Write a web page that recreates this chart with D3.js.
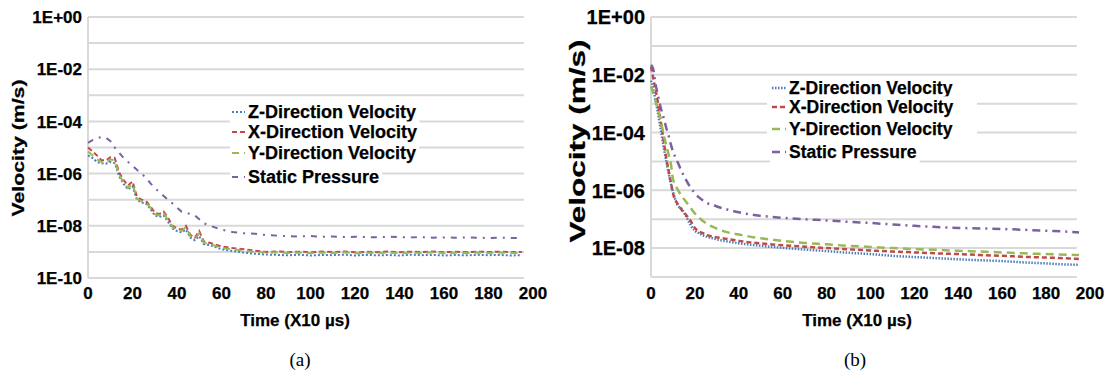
<!DOCTYPE html>
<html lang="en">
<head>
<meta charset="utf-8">
<title>Velocity convergence</title>
<style type="text/css">
  body { margin: 0; background: #fff; }
  .lbl { font-family: "Liberation Sans", Arial, sans-serif; font-weight: bold; fill: #000; stroke: #000; stroke-width: 0.25px; }
  .cap { font-family: "Liberation Serif", "Times New Roman", serif; fill: #000; }
</style>
<script type="text/javascript" src="https://cdn.jsdelivr.net/npm/d3@7"></script>
</head>
<body>
<script type="text/javascript">

var w = 1112;
var h = 380;

// ---- data ----
var seriesNames = ["Z-Direction Velocity", "X-Direction Velocity", "Y-Direction Velocity", "Static Pressure"];
var xTicks = [0, 20, 40, 60, 80, 100, 120, 140, 160, 180, 200];
var yTicksA = [1, 1e-2, 1e-4, 1e-6, 1e-8, 1e-10];
var yLabelsA = ["1E+00", "1E-02", "1E-04", "1E-06", "1E-08", "1E-10"];
var yTicksB = [1, 1e-2, 1e-4, 1e-6, 1e-8];
var yLabelsB = ["1E+00", "1E-02", "1E-04", "1E-06", "1E-08"];

// panel (a)
var tA = [0,2,4,6,8,10,12,14,16,18,20,22,24,26,28,30,32,34,36,38,40,42,44,46,48,50,52,
  55,60,65,70,75,80,85,90,95,100,105,110,115,120,125,130,135,140,145,150,155,160,165,170,175,180,185,190,195];
var zA = [5.0e-6,4.0e-6,2.8e-6,2.5e-6,2.4e-6,2.8e-6,2.5e-6,7.9e-7,4.0e-7,2.5e-7,3.2e-7,1.0e-7,7.9e-8,7.1e-8,
  4.5e-8,2.5e-8,2.2e-8,2.5e-8,1.4e-8,7.9e-9,6.3e-9,5.6e-9,7.1e-9,3.5e-9,2.8e-9,4.0e-9,2.0e-9,
  1.8e-9,1.26e-9,1.07e-9,9.5e-10,8.5e-10,7.9e-10,7.7e-10,7.4e-10,7.8e-10,7.3e-10,7.6e-10,7.5e-10,7.8e-10,
  7.3e-10,7.7e-10,7.4e-10,7.6e-10,7.3e-10,7.8e-10,7.5e-10,7.7e-10,7.3e-10,7.6e-10,7.4e-10,7.7e-10,7.5e-10,7.6e-10,7.3e-10,7.5e-10];
var xA = [1.0e-5,7.1e-6,5.0e-6,3.3e-6,3.2e-6,4.2e-6,4.0e-6,1.1e-6,5.6e-7,3.5e-7,5.0e-7,1.3e-7,1.0e-7,8.9e-8,
  5.6e-8,3.2e-8,2.8e-8,3.5e-8,2.0e-8,1.0e-8,7.9e-9,7.1e-9,1.0e-8,4.5e-9,3.5e-9,6.3e-9,2.5e-9,
  2.2e-9,1.6e-9,1.4e-9,1.26e-9,1.12e-9,1.0e-9,1.05e-9,0.98e-9,1.02e-9,0.97e-9,1.03e-9,0.99e-9,1.04e-9,
  0.96e-9,1.01e-9,0.98e-9,1.03e-9,0.97e-9,1.02e-9,0.99e-9,1.04e-9,0.97e-9,1.01e-9,0.98e-9,1.03e-9,0.99e-9,1.02e-9,0.98e-9,1.0e-9];
var yA = [7.1e-6,5.0e-6,3.5e-6,2.8e-6,2.5e-6,3.5e-6,3.2e-6,8.9e-7,4.5e-7,2.8e-7,4.0e-7,1.1e-7,8.9e-8,7.9e-8,
  5.0e-8,2.8e-8,2.5e-8,3.2e-8,1.6e-8,8.9e-9,7.1e-9,6.3e-9,8.9e-9,4.0e-9,3.2e-9,5.0e-9,2.2e-9,
  2.0e-9,1.4e-9,1.26e-9,1.12e-9,1.0e-9,9.5e-10,9.6e-10,9.0e-10,9.4e-10,8.9e-10,9.5e-10,9.1e-10,9.6e-10,
  8.9e-10,9.3e-10,9.0e-10,9.5e-10,8.9e-10,9.4e-10,9.1e-10,9.6e-10,8.9e-10,9.3e-10,9.0e-10,9.5e-10,9.1e-10,9.4e-10,9.0e-10,9.2e-10];
var pA = [1.5e-5,1.9e-5,2.3e-5,2.5e-5,2.4e-5,1.8e-5,1.0e-5,6.3e-6,4.0e-6,2.8e-6,2.0e-6,1.4e-6,1.0e-6,7.1e-7,
  4.3e-7,2.8e-7,2.0e-7,1.4e-7,1.0e-7,7.1e-8,5.0e-8,3.5e-8,3.2e-8,2.8e-8,2.5e-8,1.8e-8,1.26e-8,
  1.0e-8,7.1e-9,5.8e-9,5.2e-9,5.0e-9,4.4e-9,4.2e-9,4.0e-9,3.9e-9,4.1e-9,3.8e-9,3.9e-9,3.7e-9,
  3.8e-9,3.7e-9,3.6e-9,3.8e-9,3.7e-9,3.6e-9,3.7e-9,3.5e-9,3.6e-9,3.5e-9,3.6e-9,3.5e-9,3.4e-9,3.5e-9,3.4e-9,3.4e-9];

// panel (b)
var tB = [0,1,2,3,4,5,6,7,8,9,10,12,14,16,18,20,22,24,26,28,30,35,40,45,50,
  60,70,80,90,100,110,120,130,140,150,160,170,180,190,195];
var zB = [6.3e-3,3.2e-3,1.41e-3,5.6e-4,2.0e-4,7.1e-5,2.5e-5,1.0e-5,4.0e-6,1.78e-6,8.9e-7,3.2e-7,2.24e-7,1.26e-7,
  6.3e-8,4.0e-8,3.2e-8,2.7e-8,2.4e-8,2.2e-8,2.0e-8,1.7e-8,1.48e-8,1.32e-8,1.2e-8,
  1.02e-8,8.9e-9,7.9e-9,6.9e-9,6.2e-9,5.4e-9,4.9e-9,4.5e-9,4.1e-9,3.8e-9,3.55e-9,3.2e-9,2.95e-9,2.7e-9,2.63e-9];
var xB = [1.9e-2,7.9e-3,3.2e-3,1.26e-3,4.0e-4,1.26e-4,4.0e-5,1.26e-5,5.0e-6,2.0e-6,7.9e-7,3.5e-7,2.1e-7,1.4e-7,
  8.9e-8,5.0e-8,3.7e-8,3.2e-8,2.75e-8,2.5e-8,2.35e-8,2.05e-8,1.78e-8,1.58e-8,1.45e-8,
  1.26e-8,1.12e-8,1.0e-8,9.1e-9,8.3e-9,7.6e-9,7.1e-9,6.6e-9,6.2e-9,5.75e-9,5.4e-9,5.0e-9,4.7e-9,4.4e-9,4.2e-9];
var yB = [4.0e-3,2.24e-3,1.26e-3,7.1e-4,3.5e-4,1.58e-4,7.1e-5,3.5e-5,1.78e-5,8.9e-6,2.5e-6,1.12e-6,6.3e-7,4.0e-7,
  2.5e-7,1.58e-7,1.12e-7,8.3e-8,6.6e-8,5.5e-8,4.7e-8,3.5e-8,2.95e-8,2.5e-8,2.2e-8,
  1.78e-8,1.51e-8,1.35e-8,1.2e-8,1.1e-8,1.0e-8,9.3e-9,8.7e-9,8.1e-9,7.6e-9,7.1e-9,6.6e-9,6.2e-9,5.9e-9,5.75e-9];
var pB = [2.2e-2,1.58e-2,5.0e-3,2.24e-3,1.0e-3,5.0e-4,2.8e-4,1.41e-4,7.9e-5,4.0e-5,2.24e-5,1.0e-5,4.5e-6,2.24e-6,
  1.26e-6,7.9e-7,5.6e-7,4.3e-7,3.5e-7,3.2e-7,2.75e-7,2.14e-7,1.74e-7,1.48e-7,1.32e-7,
  1.12e-7,1.0e-7,9.1e-8,8.1e-8,7.4e-8,6.6e-8,5.9e-8,5.4e-8,5.0e-8,4.8e-8,4.6e-8,4.3e-8,4.0e-8,3.7e-8,3.5e-8];

var colors = ["#4a7ebb", "#be4b48", "#98b954", "#7d60a0"];

var svg = d3.select("body")
  .append("svg")
  .attr("width", w)
  .attr("height", h);

var drawPanel = function(p) {
  var g = svg.append("g");
  var xs = d3.scaleLinear().domain([0, 200]).range([p.left, p.right]);
  var ys = d3.scaleLog().domain(p.ydom).range([p.bottom, p.top]);
  var xEnd = xs(p.tmax);

  // gridlines every decade
  var decades = d3.range(Math.round(Math.log10(p.ydom[0])), 1).map(function(e) { return Math.pow(10, e); });
  g.selectAll("line.grid").data(decades).enter().append("line")
    .attr("class", "grid")
    .attr("x1", p.left).attr("x2", xEnd)
    .attr("y1", function(d) { return ys(d); }).attr("y2", function(d) { return ys(d); })
    .attr("stroke", "#d9d9d9").attr("stroke-width", 2);
  g.append("line")
    .attr("x1", p.left).attr("x2", p.left)
    .attr("y1", p.top).attr("y2", p.bottom)
    .attr("stroke", "#d9d9d9").attr("stroke-width", 2);

  // series
  var line = d3.line()
    .x(function(d) { return xs(d[0]); })
    .y(function(d) { return ys(d[1]); })
    .curve(p.curve);
  p.series.forEach(function(s, i) {
    g.append("path")
      .datum(p.t.map(function(t, j) { return [t, s[j]]; }))
      .attr("d", line)
      .attr("fill", "none")
      .attr("stroke", colors[i])
      .attr("stroke-width", p.sw)
      .attr("stroke-dasharray", p.dash[i]);
  });

  // y tick labels
  g.selectAll("text.yt").data(p.yticks).enter().append("text")
    .attr("class", "lbl")
    .attr("x", p.left - 6)
    .attr("y", function(d) { return ys(d); })
    .attr("dy", "0.36em")
    .attr("text-anchor", "end")
    .style("font-size", p.yfs + "px")
    .text(function(d, i) { return p.ylabels[i]; });

  // x tick labels
  g.selectAll("text.xt").data(xTicks).enter().append("text")
    .attr("class", "lbl")
    .attr("x", function(d) { return xs(d); })
    .attr("y", 299)
    .attr("text-anchor", "middle")
    .style("font-size", "17px")
    .text(function(d) { return d; });

  // axis titles
  g.append("text").attr("class", "lbl")
    .attr("x", p.xtx).attr("y", 326)
    .attr("text-anchor", "middle")
    .style("font-size", "17px")
    .text("Time (X10 \u00b5s)");
  g.append("text").attr("class", "lbl")
    .attr("transform", "translate(" + p.ytx + "," + p.yty + ") rotate(-90)")
    .attr("text-anchor", "middle")
    .attr("dy", "0.36em")
    .attr("textLength", p.ytl)
    .attr("lengthAdjust", "spacingAndGlyphs")
    .style("font-size", p.ytfs + "px")
    .text("Velocity (m/s)");

  // legend
  var lg = g.append("g");
  if (p.legBox) {
    lg.append("rect").attr("x", p.legBox[0]).attr("y", p.legBox[1])
      .attr("width", p.legBox[2]).attr("height", p.legBox[3]).attr("fill", "#fff");
  }
  seriesNames.forEach(function(name, i) {
    var row = lg.append("g");
    var bg = row.append("rect").attr("fill", "#fff");
    var tx = row.append("text").attr("class", "lbl")
      .attr("x", p.legX + p.legLen + 3)
      .attr("y", p.legY[i])
      .attr("dy", "0.36em")
      .style("font-size", p.legfs + "px")
      .text(name);
    var bb = tx.node().getBBox();
    bg.attr("x", p.legX - 2).attr("y", bb.y - 1)
      .attr("width", bb.x + bb.width - p.legX + 5).attr("height", bb.height + 2);
    row.append("line")
      .attr("x1", p.legX).attr("x2", p.legX + p.legLen)
      .attr("y1", p.legY[i]).attr("y2", p.legY[i])
      .attr("stroke", colors[i]).attr("stroke-width", p.sw)
      .attr("stroke-dasharray", p.dash[i]);
  });
};

drawPanel({
  left: 88, right: 533, top: 17, bottom: 278, ydom: [1e-10, 1], tmax: 196,
  t: tA, series: [zA, xA, yA, pA], curve: d3.curveLinear, sw: 2,
  dash: ["2,2", "5,3", "7,5", "6,6,2,6"],
  yticks: yTicksA, ylabels: yLabelsA, yfs: 17,
  xtx: 295, ytx: 18, yty: 148, ytl: 137, ytfs: 17,
  legX: 232, legLen: 13, legY: [112, 132, 153, 177], legfs: 18, legBox: null
});

drawPanel({
  left: 651, right: 1090, top: 17, bottom: 277, ydom: [1e-9, 1], tmax: 194,
  t: tB, series: [zB, xB, yB, pB], curve: d3.curveMonotoneX, sw: 2.5,
  dash: ["1.5,1.5", "5,3", "8,5", "8,5,2,5"],
  yticks: yTicksB, ylabels: yLabelsB, yfs: 20,
  xtx: 857, ytx: 577, yty: 141, ytl: 203, ytfs: 22,
  legX: 772, legLen: 14, legY: [88, 107, 129, 152], legfs: 17.5, legBox: [767, 78, 210, 79]
});

// panel captions
svg.append("text").attr("class", "cap")
  .attr("x", 300).attr("y", 366).attr("text-anchor", "middle")
  .style("font-size", "19px").text("(a)");
svg.append("text").attr("class", "cap")
  .attr("x", 855).attr("y", 366).attr("text-anchor", "middle")
  .style("font-size", "19px").text("(b)");

</script>
</body>
</html>
